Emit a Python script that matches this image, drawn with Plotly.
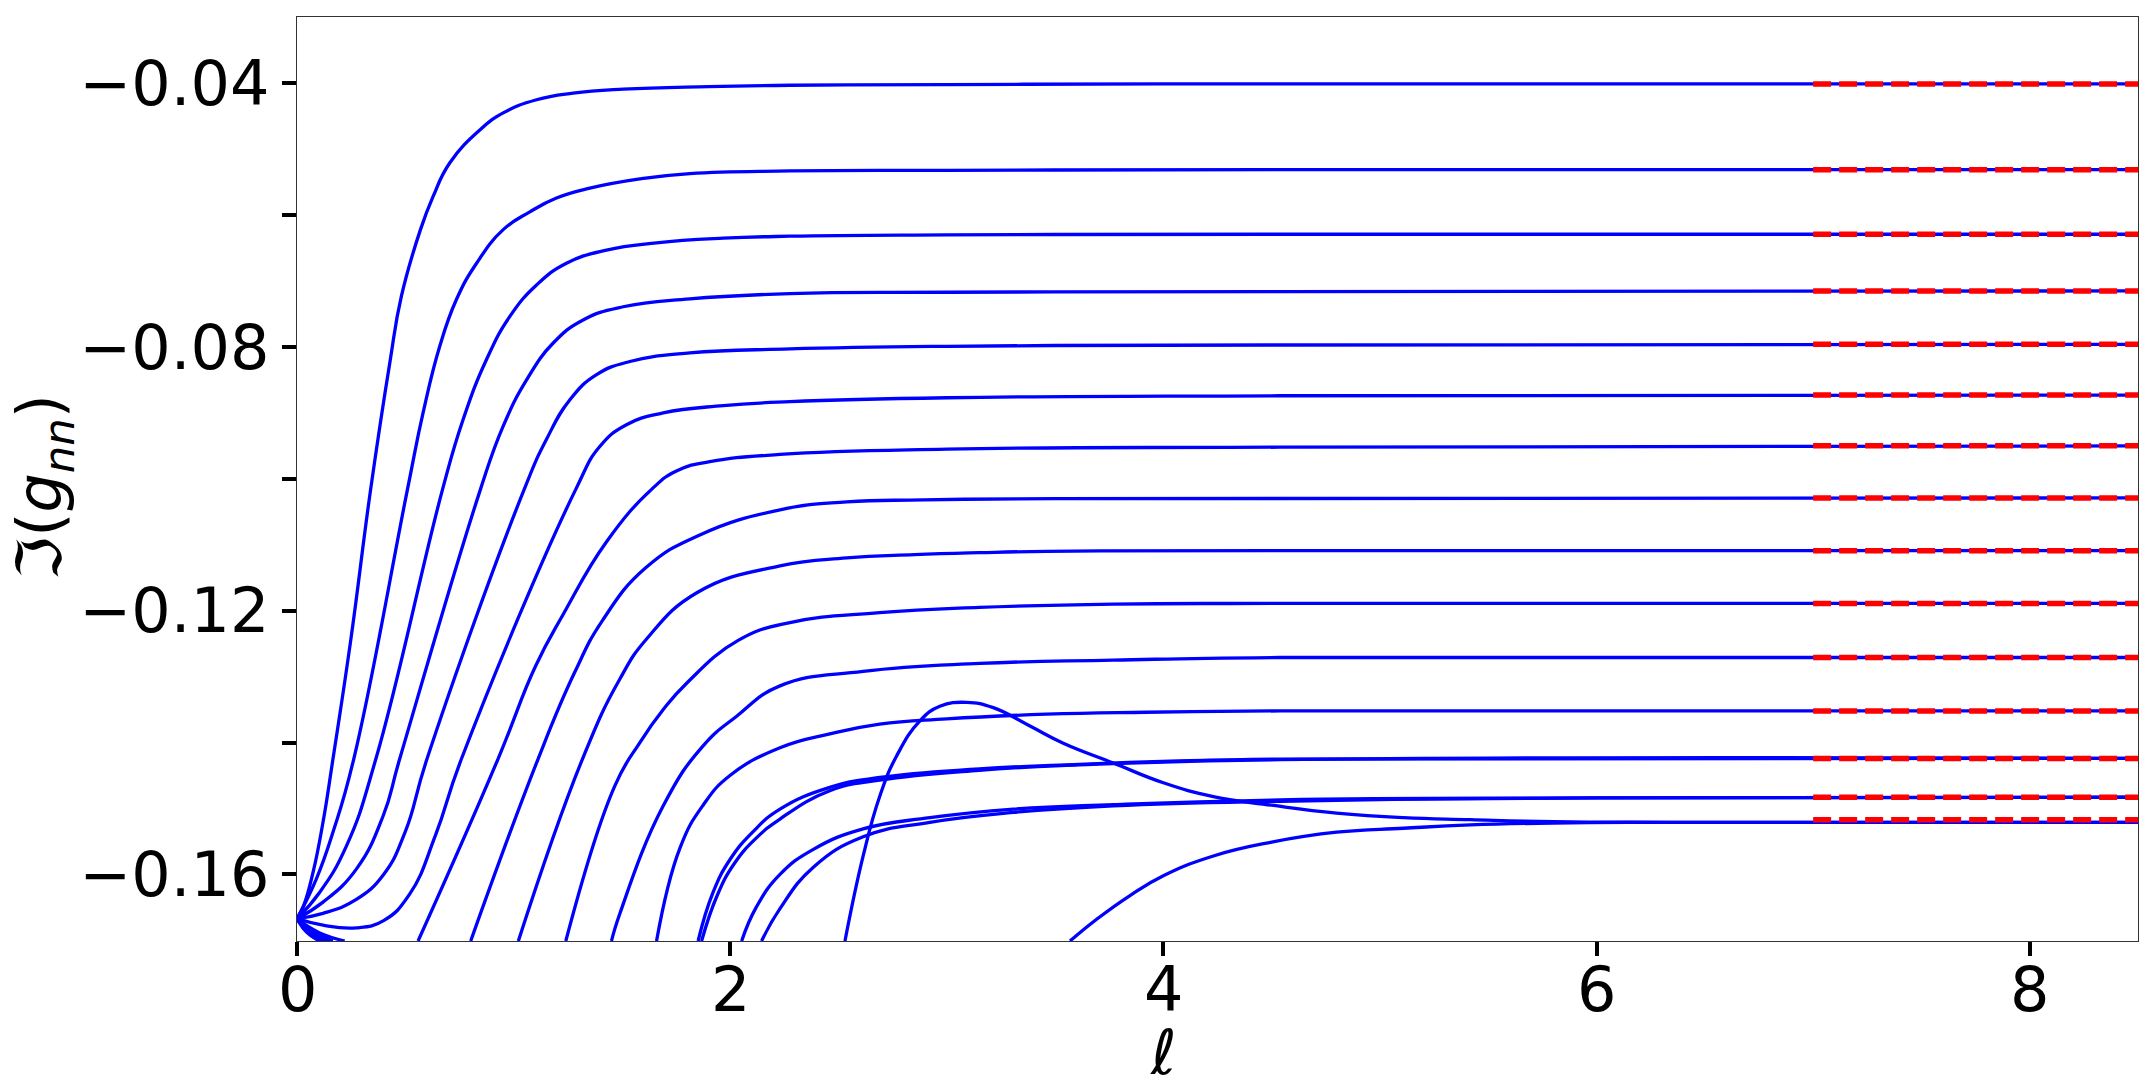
import plotly.graph_objects as go

# ---------------- axes ----------------
X_RANGE = [0, 8.5]
Y_RANGE = [-0.17010, -0.02995]
X_TICK_VALS = [0, 2, 4, 6, 8]
X_TICK_TEXT = ["0", "2", "4", "6", "8"]
Y_TICK_VALS = [-0.16, -0.12, -0.08, -0.04]
Y_TICK_TEXT = ["\u22120.16", "\u22120.12", "\u22120.08", "\u22120.04"]
Y_MINOR_TICK_VALS = [-0.14, -0.10, -0.06]

# ---------------- asymptotic levels (red dashed) ----------------
ASYM_L = [7.0, 8.5]
ASYM_LEVELS = [-0.0401, -0.0531, -0.0629, -0.0715, -0.0796, -0.0873, -0.0950,
               -0.1029, -0.1109, -0.1189, -0.1271, -0.1352, -0.1424, -0.1483, -0.1517]

# ---------------- blue curves: ell values and Im(g_nn) values ----------------
c01_l = [0, 0.03, 0.074, 0.12, 0.166, 0.248, 0.34, 0.428, 0.482, 0.57, 0.628, 0.705, 0.844, 0.952,
         1.106, 1.275, 1.506, 1.9, 2.276, 3.0, 4.0, 8.5]
c01_v = [-0.1667, -0.1648, -0.1597, -0.1521, -0.1425, -0.1245, -0.1016, -0.0825, -0.0723, -0.0622,
         -0.0572, -0.0521, -0.0471, -0.0445, -0.0425, -0.0415, -0.0409, -0.0405, -0.0403, -0.0402,
         -0.0401, -0.0401]

c02_l = [0, 0.089, 0.166, 0.262, 0.51, 0.582, 0.659, 0.736, 0.829, 0.952, 1.075, 1.198, 1.352,
         1.583, 1.814, 2.276, 3.0, 4.54, 8.5]
c02_v = [-0.1667, -0.1607, -0.1536, -0.1425, -0.1016, -0.0900, -0.0799, -0.0728, -0.0673, -0.0622,
         -0.0595, -0.0574, -0.0559, -0.0545, -0.0537, -0.0533, -0.0532, -0.0531, -0.0531]

c03_l = [0, 0.105, 0.228, 0.364, 0.672, 0.767, 0.875, 0.982, 1.106, 1.244, 1.429, 1.66, 1.968,
         2.276, 3.0, 4.54, 8.5]
c03_v = [-0.1667, -0.1627, -0.1557, -0.1425, -0.1016, -0.0910, -0.0819, -0.0754, -0.0706, -0.0673,
         -0.0653, -0.0642, -0.0635, -0.0632, -0.0630, -0.0629, -0.0629]

c04_l = [0, 0.12, 0.274, 0.398, 0.474, 0.847, 0.952, 1.06, 1.183, 1.321, 1.506, 1.814, 2.276,
         3.0, 4.54, 8.5]
c04_v = [-0.1667, -0.1642, -0.1592, -0.1511, -0.1425, -0.1016, -0.0920, -0.0850, -0.0794, -0.0759,
         -0.0739, -0.0727, -0.0719, -0.0717, -0.0716, -0.0715]

c05_l = [0, 0.12, 0.274, 0.40, 0.50, 0.60, 1.049, 1.152, 1.26, 1.383, 1.537, 1.814, 2.276, 3.0,
         4.54, 8.5]
c05_v = [-0.1667, -0.1659, -0.1638, -0.1600, -0.1535, -0.1425, -0.1016, -0.0940, -0.0880, -0.0842,
         -0.0822, -0.0809, -0.0803, -0.0799, -0.0797, -0.0796]

c06_l = [0, 0.12, 0.274, 0.40, 0.52, 0.64, 0.759, 1.287, 1.398, 1.521, 1.691, 1.968, 2.276, 3.0,
         4.54, 8.5]
c06_v = [-0.1667, -0.1677, -0.1681, -0.1670, -0.1630, -0.1540, -0.1425, -0.1016, -0.0951, -0.0918,
         -0.0900, -0.0889, -0.0883, -0.0877, -0.0874, -0.0873]

c07_l = [0, 0.10, 0.22, None, 0.559, 0.928, 1.10, 1.23, 1.43, 1.637, 1.752, 1.906, 2.23, 3.0,
         4.54, 8.5]
c07_v = [-0.1667, -0.1688, -0.1701, None, -0.1701, -0.1425, -0.1285, -0.1205, -0.1095, -0.1016,
         -0.0988, -0.0974, -0.0963, -0.0955, -0.0952, -0.0950]

c08_l = [0, 0.08, 0.166, None, 0.802, 1.113, 1.28, 1.41, 1.61, 1.86, 2.23, 2.538, 2.892, 3.5, 8.5]
c08_v = [-0.1667, -0.1688, -0.1701, None, -0.1701, -0.1425, -0.1295, -0.1215, -0.1135, -0.1085,
         -0.1047, -0.1035, -0.1032, -0.1030, -0.1029]

c09_l = [0, 0.07, 0.15, None, 1.022, 1.318, 1.49, 1.614, 1.85, 2.23, 2.538, 2.85, 3.15, 3.46,
         4.54, 8.5]
c09_v = [-0.1667, -0.1687, -0.1701, None, -0.1701, -0.1425, -0.1304, -0.1243, -0.1172, -0.1132,
         -0.1120, -0.1115, -0.1112, -0.1110, -0.1109, -0.1109]

c10_l = [0, 0.065, 0.14, None, 1.241, 1.467, 1.583, 1.691, 1.799, 2.037, 2.276, 2.69, 3.15, 3.77,
         4.54, 8.5]
c10_v = [-0.1667, -0.1686, -0.1701, None, -0.1701, -0.1466, -0.1400, -0.1350, -0.1310, -0.1245,
         -0.1218, -0.1203, -0.1195, -0.1190, -0.1189, -0.1189]

c11_l = [0, 0.06, 0.13, None, 1.452, 1.49, 1.691, 1.875, 2.03, 2.23, 2.614, 3.153, 3.769, 4.539, 8.5]
c11_v = [-0.1667, -0.1686, -0.1701, None, -0.1701, -0.1660, -0.1496, -0.1405, -0.1360, -0.1314,
         -0.1292, -0.1280, -0.1275, -0.1271, -0.1271]

c12_l = [0, 0.06, 0.125, None, 1.66, 1.768, 1.875, 1.999, 2.23, 2.46, 2.69, 3.0, 3.46, 3.92,
         4.54, 8.5]
c12_v = [-0.1667, -0.1686, -0.1701, None, -0.1701, -0.1560, -0.1495, -0.1450, -0.1408, -0.1387,
         -0.1372, -0.1364, -0.1357, -0.1354, -0.1352, -0.1352]

c13a_l = [0, 0.055, 0.12, None, 1.852, 1.92, 2.0, 2.106, 2.23, 2.46, 2.69, 3.15, 3.61, 4.07,
          4.54, 8.5]
c13a_v = [-0.1667, -0.1686, -0.1701, None, -0.1701, -0.1628, -0.1577, -0.1535, -0.1501, -0.1468,
          -0.1453, -0.1440, -0.1433, -0.1428, -0.1425, -0.1424]

c13b_l = [0, 0.055, 0.118, None, 1.868, 1.94, 2.02, 2.12, 2.23, 2.46, 2.69, 3.15, 3.61, 4.54, 8.5]
c13b_v = [-0.1667, -0.1687, -0.1701, None, -0.1701, -0.1632, -0.1583, -0.1545, -0.1516, -0.1473,
          -0.1457, -0.1442, -0.1434, -0.1426, -0.1424]

c14a_l = [0, 0.05, 0.115, None, 2.053, 2.12, 2.23, 2.384, 2.614, 2.922, 3.307, 3.769, 4.539, 6.0, 8.5]
c14a_v = [-0.1667, -0.1686, -0.1701, None, -0.1701, -0.1650, -0.1600, -0.1562, -0.1531, -0.1514,
          -0.1501, -0.1494, -0.1487, -0.1484, -0.1483]

c14b_l = [0, 0.05, 0.112, None, 2.145, 2.23, 2.384, 2.614, 2.922, 3.307, 3.769, 4.539, 6.0, 8.5]
c14b_v = [-0.1667, -0.1687, -0.1701, None, -0.1701, -0.1652, -0.1589, -0.1543, -0.1521, -0.1506,
          -0.1496, -0.1489, -0.1484, -0.1483]

hump_l = [0, 0.05, 0.11, None, 2.53, 2.614, 2.691, 2.769, 2.876, 2.968, 3.092, 3.215, 3.384, 3.538,
          3.769, 4.0, 4.231, 4.5, 4.8, 5.109, 5.417, 5.8, 6.34, 8.5]
hump_v = [-0.1667, -0.1688, -0.1701, None, -0.1701, -0.1572, -0.1481, -0.1420, -0.1367, -0.1345,
          -0.1339, -0.1347, -0.1375, -0.1401, -0.1431, -0.1461, -0.1482, -0.1495, -0.1507, -0.1514,
          -0.1517, -0.1520, -0.1521, -0.1521]

c15b_l = [0, 0.045, 0.105, None, 3.569, 3.692, 3.846, 4.0, 4.231, 4.5, 4.8, 5.109, 5.417, 5.8,
          6.34, 8.5]
c15b_v = [-0.1667, -0.1688, -0.1701, None, -0.1701, -0.1668, -0.1632, -0.1602, -0.1572, -0.1551,
          -0.1536, -0.1530, -0.1525, -0.1522, -0.1521, -0.1521]

CURVES = [(c01_l, c01_v), (c02_l, c02_v), (c03_l, c03_v), (c04_l, c04_v), (c05_l, c05_v),
          (c06_l, c06_v), (c07_l, c07_v), (c08_l, c08_v), (c09_l, c09_v), (c10_l, c10_v),
          (c11_l, c11_v), (c12_l, c12_v), (c13a_l, c13a_v), (c13b_l, c13b_v),
          (c14a_l, c14a_v), (c14b_l, c14b_v), (hump_l, hump_v), (c15b_l, c15b_v)]

FONT = "DejaVu Sans"

fig = go.Figure()
for lx, vy in CURVES:
    fig.add_trace(go.Scatter(x=lx, y=vy, mode="lines",
                             line=dict(color="#0000ff", width=3.3, shape="spline", smoothing=1.3),
                             connectgaps=False, showlegend=False, hoverinfo="skip"))

# red dashed asymptotes
ax, ay = [], []
for lev in ASYM_LEVELS:
    ax += [ASYM_L[0], ASYM_L[1], None]
    ay += [lev, lev, None]
fig.add_trace(go.Scatter(x=ax, y=ay, mode="lines",
                         line=dict(color="#ff0000", width=5.5, dash="18px,8px"),
                         showlegend=False, hoverinfo="skip"))

axis_common = dict(showgrid=False, zeroline=False, showline=True, linecolor="#333333",
                   linewidth=1.4, mirror=True, ticks="outside", ticklen=14, tickwidth=4,
                   tickcolor="black", tickfont=dict(family=FONT, size=62, color="black"))

fig.update_xaxes(range=X_RANGE, tickmode="array", tickvals=X_TICK_VALS,
                 showticklabels=False, **axis_common)
fig.update_yaxes(range=Y_RANGE, tickmode="array", tickvals=Y_TICK_VALS, ticktext=Y_TICK_TEXT,
                 minor=dict(tickmode="array", tickvals=Y_MINOR_TICK_VALS, ticks="outside",
                            ticklen=14, tickwidth=4, tickcolor="black", showgrid=False),
                 **axis_common)

# x tick labels
for xv, xt in zip(X_TICK_VALS, X_TICK_TEXT):
    fig.add_annotation(text=xt, xref="x", yref="paper", x=xv, y=-0.053,
                       xanchor="center", yanchor="middle", showarrow=False,
                       font=dict(family=FONT, size=62, color="black"))

fig.add_annotation(text="<i>\u2113</i>", xref="paper", yref="paper", x=0.4704, y=-0.1205,
                   xanchor="center", yanchor="middle", showarrow=False,
                   font=dict(family=FONT, size=62, color="black"))
fig.add_annotation(text="\u2111(<i>g</i><sub><i>nn</i></sub>)", xref="paper", yref="paper",
                   x=-0.1380, y=0.4913, xanchor="center", yanchor="middle", textangle=-90,
                   showarrow=False, font=dict(family=FONT, size=62, color="black"))

# page body has an 8px default margin: size/margins compensate so the plot area
# lands where the reference has it
fig.update_layout(width=2135, height=1069, margin=dict(l=289, r=5, t=9, b=136),
                  paper_bgcolor="white", plot_bgcolor="white", showlegend=False)

fig.write_html("out.html")
